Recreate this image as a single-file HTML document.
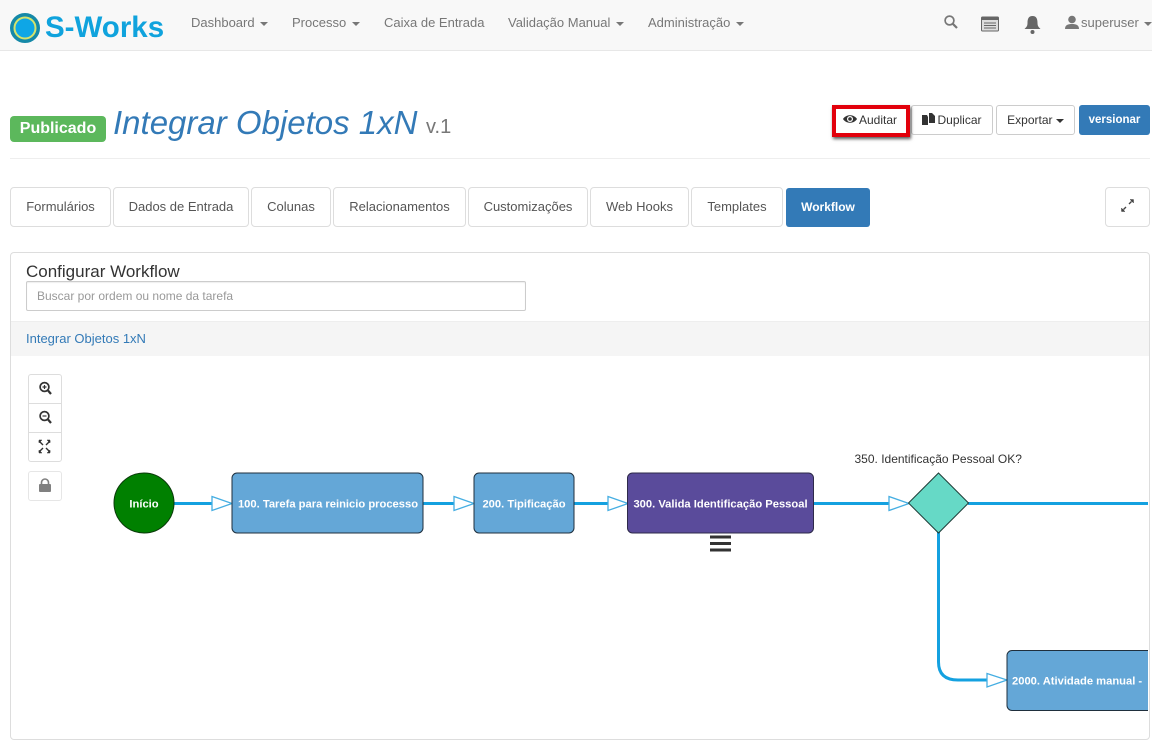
<!DOCTYPE html>
<html lang="pt">
<head>
<meta charset="utf-8">
<title>S-Works</title>
<style>
html,body{margin:0;padding:0;background:#fff;}
#p{position:relative;width:1155px;height:746px;overflow:hidden;background:#fff;font-family:"Liberation Sans",sans-serif;font-size:12px;color:#333;}
.a{position:absolute;white-space:nowrap;box-sizing:border-box;}
.n{color:#777;font-size:13px;line-height:16px;top:15px;}
.c{display:inline-block;width:0;height:0;border-left:4px solid transparent;border-right:4px solid transparent;border-top:4px solid currentColor;vertical-align:middle;margin-left:2px;}
.b{background:#fff;border:1px solid #ccc;border-radius:3px;text-align:center;}
.t{top:187px;height:40px;line-height:37px;font-size:13px;color:#555;border-color:#ddd;border-radius:4px;}
</style>
</head>
<body>
<div id="p">
<div class="a" style="left:0;top:0;width:1152px;height:51px;background:#f8f8f8;border-bottom:1px solid #e7e7e7;"></div>
<svg class="a" style="left:9px;top:12px;" width="32" height="32"><circle cx="16" cy="16" r="12.500" fill="#0ea6e6" stroke="#1589a8" stroke-width="5"/><circle cx="16" cy="16" r="10.500" fill="#0ea6e6" stroke="#d5e36d" stroke-width="2"/></svg>
<div class="a" style="left:45px;top:11px;font-size:29.500px;line-height:34px;font-weight:bold;color:#10a3dd;">S-Works</div>
<div class="a n" style="left:191px;">Dashboard <span class="c"></span></div>
<div class="a n" style="left:292px;">Processo <span class="c"></span></div>
<div class="a n" style="left:384px;">Caixa de Entrada</div>
<div class="a n" style="left:508px;">Validação Manual <span class="c"></span></div>
<div class="a n" style="left:648px;">Administração <span class="c"></span></div>
<svg class="a" style="left:943px;top:14px;" width="16" height="16"><circle cx="6.500" cy="6.500" r="4.400" fill="none" stroke="#777" stroke-width="1.700"/><line x1="9.700" y1="9.700" x2="14" y2="14" stroke="#777" stroke-width="2.200"/></svg>
<svg class="a" style="left:981px;top:16px;" width="18" height="16"><rect x="0.500" y="1" width="17" height="14" rx="1" fill="#ddd" stroke="#666"/><rect x="0.500" y="1" width="17" height="3" fill="#666"/><path d="M3 7h12M3 9.500h12M3 12h12" stroke="#666"/></svg>
<svg class="a" style="left:1024px;top:15px;" width="17" height="20"><path d="M8.500 1c-4 0-5 3-5 7 0 3-1 4-3 6h16c-2-2-3-3-3-6 0-4-1-7-5-7z" fill="#666"/><circle cx="8.500" cy="17" r="2" fill="#666"/></svg>
<svg class="a" style="left:1065px;top:15px;" width="14" height="14"><circle cx="7" cy="4.500" r="3.800" fill="#777"/><path d="M0 14c0-4 3-5 7-5s7 1 7 5z" fill="#777"/></svg>
<div class="a n" style="left:1081px;">superuser <span class="c"></span></div>

<div class="a" style="left:10px;top:116px;width:96px;height:26px;background:#5cb85c;border-radius:4px;color:#fff;font-weight:bold;font-size:16px;line-height:25px;text-align:center;">Publicado</div>
<div class="a" style="left:113px;top:104px;font-size:33px;line-height:38px;font-style:italic;color:#337ab7;">Integrar Objetos 1xN</div>
<div class="a" style="left:426px;top:115px;font-size:20px;line-height:24px;color:#777;">v.1</div>

<div class="a b" style="left:911px;top:105px;width:82px;height:30px;line-height:28px;padding-left:15px;">Duplicar</div>
<svg class="a" style="left:922px;top:113px;" width="13" height="12"><path d="M0 2h5l1 2v8H0z" fill="#333"/><path d="M7 0h3l3 3v7H7z" fill="#333"/></svg>
<div class="a b" style="left:996px;top:105px;width:79px;height:30px;line-height:28px;">Exportar <span class="c" style="margin-left:0;"></span></div>
<div class="a" style="left:1079px;top:105px;width:71px;height:30px;line-height:30px;background:#337ab7;border-radius:3px;color:#fff;text-align:center;font-weight:bold;font-size:11.500px;">versionar</div>
<div class="a" style="left:832px;top:105px;width:78px;height:32px;background:#fff;border:4px solid #e2000b;box-shadow:1px 2px 3px rgba(0,0,0,.65);line-height:22px;padding-left:23px;">Auditar</div>
<svg class="a" style="left:843px;top:113px;" width="14" height="12"><path d="M0 6C3 1 11 1 14 6 11 11 3 11 0 6z" fill="#333"/><circle cx="7" cy="6" r="3" fill="#fff"/><circle cx="7" cy="6" r="1.800" fill="#333"/></svg>
<div class="a" style="left:10px;top:158px;width:1140px;height:1px;background:#eee;"></div>

<div class="a b t" style="left:10px;width:101px;">Formulários</div>
<div class="a b t" style="left:113px;width:136px;">Dados de Entrada</div>
<div class="a b t" style="left:251px;width:80px;">Colunas</div>
<div class="a b t" style="left:333px;width:133px;">Relacionamentos</div>
<div class="a b t" style="left:468px;width:120px;">Customizações</div>
<div class="a b t" style="left:590px;width:99px;">Web Hooks</div>
<div class="a b t" style="left:691px;width:92px;">Templates</div>
<div class="a" style="left:786px;top:188px;width:84px;height:39px;background:#337ab7;border-radius:3px;color:#fff;text-align:center;font-weight:bold;font-size:12px;line-height:38px;">Workflow</div>
<div class="a b" style="left:1105px;top:187px;width:45px;height:40px;border-color:#ddd;border-radius:4px;"></div>
<svg class="a" style="left:1121px;top:199px;" width="13" height="13" fill="#444" stroke="#444"><path d="M12.500 .5l-3.500 0 3.500 3.500zM.5 12.500l3.500 0-3.500-3.500z" stroke-width=".5"/><path d="M10.500 2.500L8 5M2.500 10.500L5 8" stroke-width="1.400"/></svg>

<div class="a" style="left:10px;top:252px;width:1140px;height:488px;border:1px solid #ddd;border-radius:4px;"></div>
<div class="a" style="left:26px;top:262px;font-size:17px;line-height:19px;color:#333;">Configurar Workflow</div>
<div class="a" style="left:26px;top:281px;width:500px;height:30px;border:1px solid #ccc;border-radius:2px;padding-left:10px;line-height:28px;color:#999;box-shadow:inset 0 1px 1px rgba(0,0,0,.07);">Buscar por ordem ou nome da tarefa</div>
<div class="a" style="left:11px;top:321px;width:1138px;height:35px;background:#f5f5f5;border-top:1px solid #eee;padding-left:15px;line-height:34px;color:#337ab7;font-size:13px;">Integrar Objetos 1xN</div>

<div class="a" style="left:28px;top:374px;width:34px;height:88px;background:#fff;border:1px solid #ddd;border-radius:3px;"></div>
<div class="a" style="left:29px;top:403px;width:32px;height:1px;background:#ddd;"></div>
<div class="a" style="left:29px;top:432px;width:32px;height:1px;background:#ddd;"></div>
<svg class="a" style="left:38px;top:380px;" width="16" height="76" fill="none" stroke="#333">
<circle cx="6.500" cy="7" r="4.400" stroke-width="1.700"/><line x1="10" y1="10.500" x2="13" y2="14" stroke-width="2.200"/><path d="M4.500 7h4M6.500 5v4" stroke-width="1.200"/>
<circle cx="6.500" cy="36" r="4.400" stroke-width="1.700"/><line x1="10" y1="39.500" x2="13" y2="43" stroke-width="2.200"/><path d="M4.500 36h4" stroke-width="1.200"/>
<path d="M1 61l4 4M12 61l-4 4M1 72l4-4M12 72l-4-4" stroke-width="1.400"/><path d="M1 60h3l-3 3zM12 60h-3l3 3zM1 73h3l-3-3zM12 73h-3l3-3z" fill="#333" stroke-width=".5"/>
</svg>
<div class="a" style="left:28px;top:471px;width:34px;height:30px;background:#fff;border:1px solid #e6e6e6;border-radius:3px;"></div>
<svg class="a" style="left:38px;top:478px;" width="14" height="15"><path d="M3.500 7V4.500a3.500 3.500 0 0 1 7 0V7" fill="none" stroke="#808080" stroke-width="1.600"/><rect x="1" y="6" width="12" height="8" rx="1" fill="#808080"/></svg>

<svg class="a" style="left:0;top:440px;" width="1155" height="306">
<g fill="none" stroke="#14a1e0" stroke-width="3">
<path d="M174 63.500H212"/><path d="M423 63.500H454"/><path d="M574 63.500H608"/><path d="M813 63.500H889"/>
<path d="M968 63.500H1148"/>
<path d="M938.500 92V222Q938.500 240 958 240H987"/>
</g>
<g fill="#fff" stroke="#45aee2" stroke-width="1.300">
<path d="M212 56.500L232 63.500L212 70.500z"/><path d="M454 56.500L474 63.500L454 70.500z"/><path d="M608 56.500L628 63.500L608 70.500z"/><path d="M889 56.500L909 63.500L889 70.500z"/><path d="M987 233.500L1007 240L987 247z"/>
</g>
<circle cx="144" cy="63" r="30" fill="#008000" stroke="#0a3a0a" stroke-width="1"/>
<rect x="232" y="33" width="191" height="60" rx="5" fill="#64a7d7" stroke="#1f2f3d"/>
<rect x="474" y="33" width="100" height="60" rx="5" fill="#64a7d7" stroke="#1f2f3d"/>
<rect x="627.500" y="33" width="186" height="60" rx="5" fill="#5a4b9b" stroke="#2e2a4a"/>
<path d="M938.500 33L968.500 63L938.500 93L908.500 63z" fill="#66d9c6" stroke="#1d3b36"/>
<path d="M1148 210.500H1012a5 5 0 0 0-5 5v50a5 5 0 0 0 5 5H1148z" fill="#64a7d7"/>
<path d="M1148 210.500H1012a5 5 0 0 0-5 5v50a5 5 0 0 0 5 5H1148" fill="none" stroke="#1f2f3d"/>
<path d="M710 97h21M710 103.500h21M710 110h21" stroke="#333" stroke-width="3"/>
<g font-family="Liberation Sans" font-size="11.200" font-weight="bold" fill="#fff" text-anchor="middle">
<text x="144" y="67.500">Início</text>
<text x="328" y="67.500">100. Tarefa para reinicio processo</text>
<text x="524" y="67.500">200. Tipificação</text>
<text x="720.500" y="67.500">300. Valida Identificação Pessoal</text>
<text x="1012" y="244.500" text-anchor="start">2000. Atividade manual -</text>
</g>
<text x="854.500" y="23" font-family="Liberation Sans" font-size="12" fill="#333">350. Identificação Pessoal OK?</text>
</svg>
</div>
</body>
</html>
